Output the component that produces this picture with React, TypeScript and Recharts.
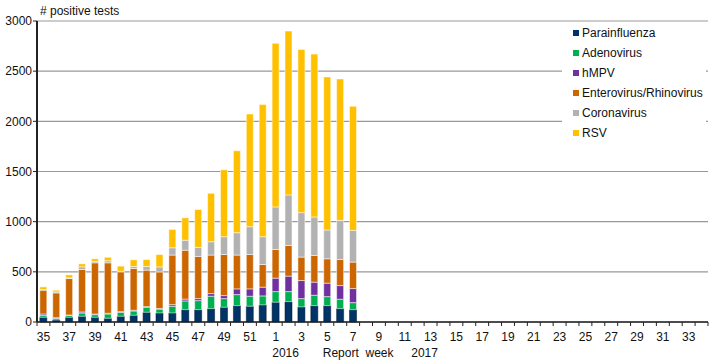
import { BarChart, Bar, XAxis, YAxis, CartesianGrid } from "recharts";

const weeks = [
	"35", "36", "37", "38", "39", "40", "41", "42", "43", "44", "45", "46", "47",
	"48", "49", "50", "51", "52", "1", "2", "3", "4", "5", "6", "7", "8", "9",
	"10", "11", "12", "13", "14", "15", "16", "17", "18", "19", "20", "21", "22",
	"23", "24", "25", "26", "27", "28", "29", "30", "31", "32", "33", "34",
];

const parainfluenza = [47, 20, 47, 57, 47, 37, 57, 67, 97, 90, 90, 123, 123, 133, 147, 163, 157, 170, 197, 203, 150, 163, 163, 133, 123];
const adenovirus = [20, 17, 20, 33, 26, 43, 40, 43, 50, 38, 67, 87, 90, 124, 86, 110, 100, 90, 106, 100, 83, 104, 90, 94, 70];
const hmpv = [13, 6, 3, 10, 7, 7, 6, 7, 6, 7, 16, 18, 20, 26, 30, 57, 73, 87, 134, 154, 180, 130, 134, 136, 140];
const enteroRhino = [237, 247, 363, 423, 510, 503, 397, 416, 364, 364, 494, 487, 420, 384, 410, 337, 343, 226, 286, 306, 234, 266, 243, 260, 264];
const coronavirus = [6, 10, 7, 27, 13, 20, 7, 20, 36, 50, 73, 100, 90, 133, 177, 223, 277, 277, 424, 504, 443, 384, 287, 390, 316];
const rsv = [27, 17, 30, 30, 27, 35, 50, 67, 69, 123, 183, 223, 378, 483, 667, 817, 1123, 1317, 1630, 1633, 1627, 1623, 1526, 1410, 1237];

const yTicks = [0, 500, 1000, 1500, 2000, 2500, 3000];

// labels under the week numbers: [week the label sits under, text, nudge]
const underLabels = [
	["2", "2016", -3],
	["7", "Report  week", 5],
	["13", "2017", -6],
];

const series = [
	{ key: "parainfluenza", name: "Parainfluenza", color: "#003366", stroke: "#001530", values: parainfluenza },
	{ key: "adenovirus", name: "Adenovirus", color: "#00B050", stroke: "#ffffff", values: adenovirus },
	{ key: "hmpv", name: "hMPV", color: "#7030A0", stroke: "#ffffff", values: hmpv },
	{ key: "enteroRhino", name: "Enterovirus/Rhinovirus", color: "#CC6600", stroke: "#ffffff", values: enteroRhino },
	{ key: "coronavirus", name: "Coronavirus", color: "#B2B2B2", stroke: "#ffffff", values: coronavirus },
	{ key: "rsv", name: "RSV", color: "#FFC000", stroke: "#ffffff", values: rsv },
];

const data = weeks.map((week, i) => {
	const row: any = { week };
	series.forEach((s) => {
		if (i < s.values.length) row[s.key] = s.values[i];
	});
	return row;
});

const FONT = "'Liberation Sans', Arial, sans-serif";

const WeekTick = (props: any) => {
	const { x, y, payload, index } = props;
	const half = payload.offset || 6.45;
	const extra = underLabels.find((l) => l[0] === payload.value);
	return (
		<g>
			<line x1={x - half} x2={x - half} y1={y} y2={y + 4} stroke="#222" />
			{index === weeks.length - 1 && (
				<line x1={x + half} x2={x + half} y1={y} y2={y + 4} stroke="#222" />
			)}
			{index % 2 === 0 && (
				<text x={x} y={y + 19} textAnchor="middle" fontSize={12} fill="#111" fontFamily={FONT}>
					{payload.value}
				</text>
			)}
			{extra && (
				<text
					x={x + (extra[2] as number)}
					y={y + 35}
					textAnchor="middle"
					fontSize={12}
					fill="#111"
					fontFamily={FONT}
					style={{ whiteSpace: "pre" }}
				>
					{extra[1]}
				</text>
			)}
		</g>
	);
};

// white legend box sits over the gridlines, like the original
const LegendList = () => (
	<div
		style={{
			position: "absolute",
			left: 562,
			top: 23,
			width: 133,
			height: 126,
			paddingLeft: 11,
			background: "#fff",
			fontFamily: FONT,
			fontSize: 12,
			lineHeight: "20px",
			color: "#111",
		}}
	>
		{series.map((s) => (
			<div key={s.key} style={{ display: "flex", alignItems: "center" }}>
				<span
					style={{
						display: "inline-block",
						width: 6,
						height: 6,
						background: s.color,
						marginRight: 3,
					}}
				/>
				{s.name}
			</div>
		))}
	</div>
);

const App = () => {
	return (
		<div style={{ position: "absolute", left: 0, top: 0, width: 720, height: 360, background: "#fff" }}>
			<div
				style={{
					position: "absolute",
					left: 40,
					top: 4,
					fontFamily: FONT,
					fontSize: 12,
					color: "#111",
				}}
			>
				# positive tests
			</div>
			<BarChart
				width={720}
				height={360}
				data={data}
				margin={{ top: 21, right: 12, bottom: 8, left: 0 }}
				barCategoryGap="22%"
			>
				<CartesianGrid vertical={false} stroke="#999" strokeWidth={1.2} />
				<XAxis
					dataKey="week"
					interval={0}
					height={30}
					tickLine={false}
					tickSize={0}
					tickMargin={0}
					axisLine={{ stroke: "#222", strokeWidth: 1.5 }}
					tick={<WeekTick />}
				/>
				<YAxis
					domain={[0, 3000]}
					ticks={yTicks}
					width={37}
					tickSize={4}
					tickMargin={1}
					axisLine={{ stroke: "#222", strokeWidth: 2 }}
					tickLine={{ stroke: "#222" }}
					tick={{ fontSize: 12, fill: "#111", fontFamily: FONT }}
				/>
				<YAxis
					yAxisId="frame"
					orientation="right"
					domain={[0, 3000]}
					width={0}
					tick={false}
					tickLine={false}
					axisLine={{ stroke: "#999", strokeWidth: 1.5 }}
				/>
				{series.map((s) => (
					<Bar
						key={s.key}
						dataKey={s.key}
						name={s.name}
						stackId="a"
						fill={s.color}
						stroke={s.stroke}
						strokeOpacity={0.5}
						strokeWidth={1}
						isAnimationActive={false}
					/>
				))}
			</BarChart>
			<LegendList />
		</div>
	);
};

export default App;
